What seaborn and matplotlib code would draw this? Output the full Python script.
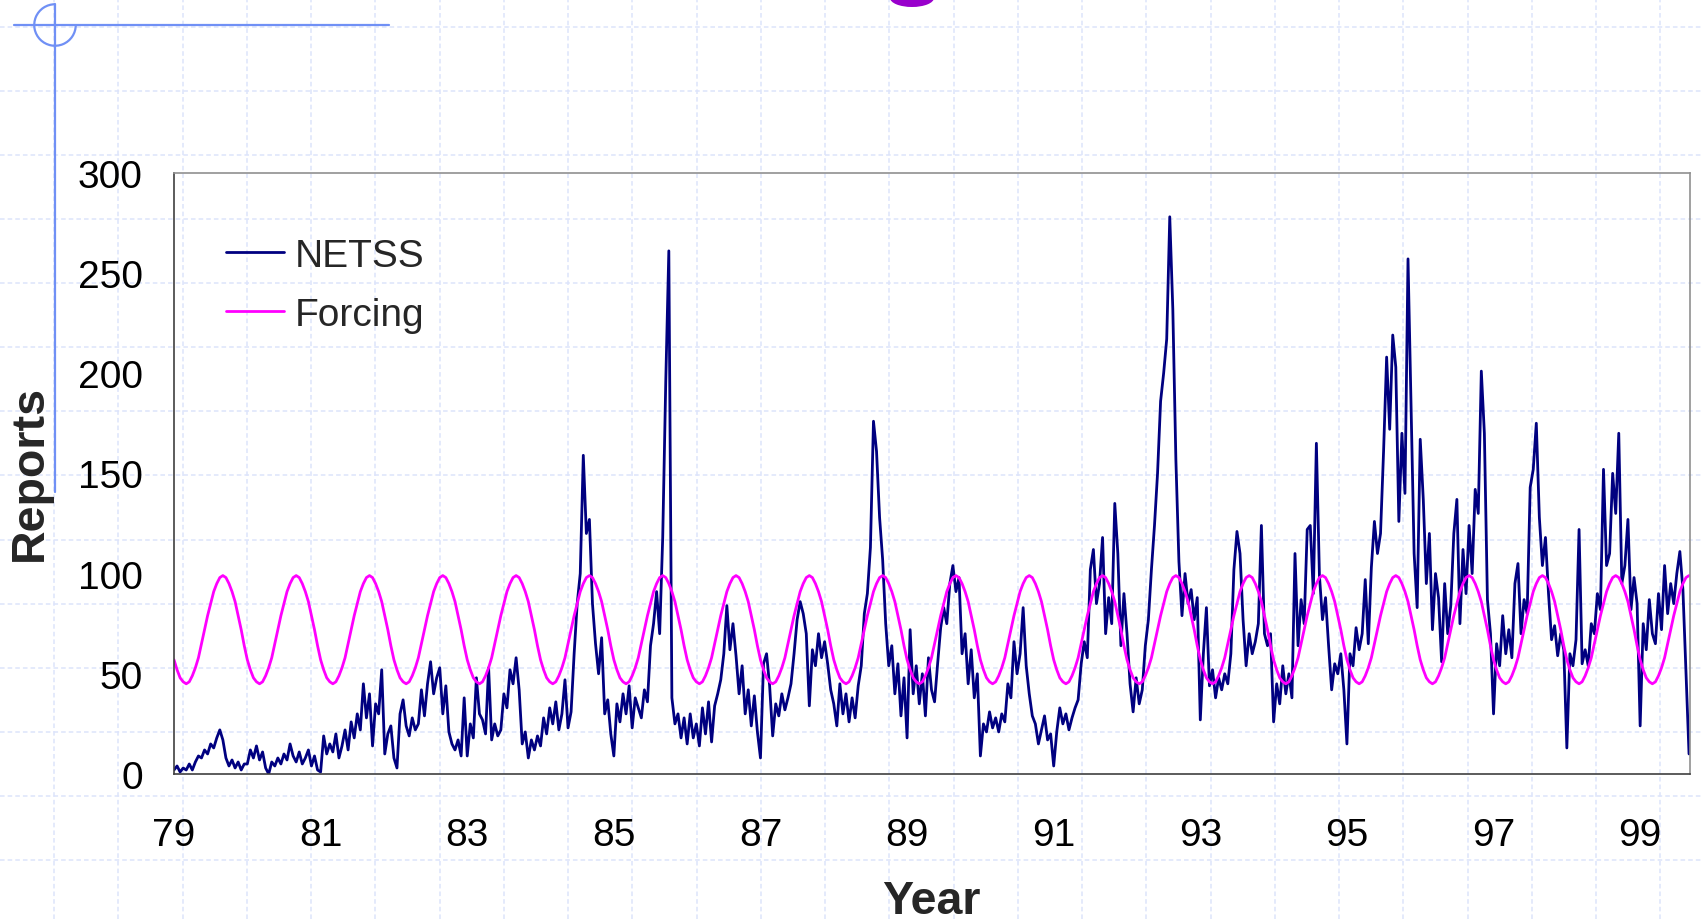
import matplotlib
matplotlib.use("Agg")
import matplotlib.pyplot as plt
from matplotlib.lines import Line2D
from matplotlib.patches import Arc, Ellipse
from matplotlib.transforms import IdentityTransform
import pandas as pd
import seaborn as sns

# NETSS reports, sampled twice a month (24 values per year)
netss_1979 = [2, 4, 1, 3, 2, 5, 2, 6, 9, 8, 12, 10, 15, 13, 18, 22, 17, 8, 4, 7, 3, 6, 2, 5]
netss_1980 = [5, 12, 8, 14, 7, 11, 3, 0, 6, 4, 8, 5, 10, 7, 15, 9, 6, 11, 5, 8, 12, 4, 9, 2]
netss_1981 = [1, 19, 10, 15, 11, 20, 8, 14, 22, 12, 26, 18, 30, 22, 45, 28, 40, 14, 35, 30, 52, 10, 20, 24]
netss_1982 = [8, 3, 30, 37, 24, 19, 28, 22, 25, 42, 29, 45, 56, 40, 48, 53, 30, 44, 21, 15, 12, 17, 9, 38]
netss_1983 = [9, 25, 18, 48, 30, 27, 20, 53, 17, 25, 19, 22, 40, 33, 52, 45, 58, 42, 15, 21, 8, 17, 12, 19]
netss_1984 = [14, 28, 20, 33, 25, 36, 22, 30, 47, 23, 31, 60, 85, 100, 159, 120, 127, 85, 65, 50, 68, 30, 37, 20]
netss_1985 = [9, 35, 26, 40, 30, 44, 23, 38, 33, 28, 42, 36, 64, 75, 91, 70, 118, 196, 261, 38, 25, 30, 18, 28]
netss_1986 = [15, 30, 18, 25, 14, 33, 20, 36, 16, 34, 40, 47, 60, 84, 62, 75, 59, 40, 54, 30, 42, 24, 39, 21]
netss_1987 = [8, 55, 60, 44, 19, 35, 29, 40, 32, 38, 45, 60, 77, 86, 80, 70, 34, 62, 54, 70, 58, 66, 55, 42]
netss_1988 = [35, 24, 45, 30, 40, 26, 38, 28, 44, 54, 80, 90, 113, 176, 161, 128, 107, 75, 54, 64, 40, 55, 29, 48]
netss_1989 = [18, 72, 40, 54, 35, 50, 29, 58, 42, 36, 55, 73, 83, 75, 95, 104, 91, 98, 60, 70, 45, 62, 38, 50]
netss_1990 = [9, 25, 21, 31, 23, 28, 21, 30, 26, 45, 38, 66, 50, 60, 83, 54, 40, 29, 25, 15, 22, 29, 17, 20]
netss_1991 = [4, 21, 33, 25, 30, 22, 28, 33, 37, 55, 66, 58, 102, 112, 85, 95, 118, 70, 88, 75, 135, 110, 64, 90]
netss_1992 = [70, 45, 31, 48, 35, 42, 64, 77, 102, 124, 150, 186, 200, 217, 278, 232, 157, 106, 79, 100, 85, 92, 77, 88]
netss_1993 = [27, 60, 83, 44, 52, 38, 48, 42, 50, 45, 60, 102, 121, 110, 77, 54, 70, 60, 66, 75, 124, 70, 64, 70]
netss_1994 = [26, 45, 35, 54, 40, 50, 38, 110, 64, 87, 75, 122, 124, 90, 165, 99, 77, 88, 64, 42, 55, 50, 60, 42]
netss_1995 = [15, 60, 54, 73, 62, 70, 97, 65, 103, 126, 110, 120, 161, 208, 172, 219, 203, 126, 170, 140, 257, 183, 110, 83]
netss_1996 = [167, 137, 95, 120, 72, 100, 88, 56, 95, 70, 84, 120, 137, 75, 112, 90, 124, 100, 142, 130, 201, 170, 87, 70]
netss_1997 = [30, 65, 54, 79, 60, 72, 58, 95, 105, 70, 87, 80, 143, 152, 175, 128, 104, 118, 90, 67, 74, 59, 70, 62]
netss_1998 = [13, 60, 54, 67, 122, 55, 62, 54, 75, 70, 90, 82, 152, 104, 110, 150, 130, 170, 95, 104, 127, 82, 98, 85]
netss_1999 = [24, 75, 62, 87, 70, 65, 90, 72, 104, 80, 95, 85, 100, 111, 92, 51, 10]

netss_years = [79, 80, 81, 82, 83, 84, 85, 86, 87, 88, 89, 90, 91, 92, 93, 94, 95, 96, 97, 98, 99]
netss_values = [netss_1979, netss_1980, netss_1981, netss_1982, netss_1983, netss_1984,
                netss_1985, netss_1986, netss_1987, netss_1988, netss_1989, netss_1990,
                netss_1991, netss_1992, netss_1993, netss_1994, netss_1995, netss_1996,
                netss_1997, netss_1998, netss_1999]

# Seasonal forcing over one year, same half-month sampling
forcing_cycle = [57, 52, 48, 46, 45, 46, 49, 53, 58, 65, 72, 79,
                 85, 91, 95, 98, 99, 98, 95, 91, 86, 79, 72, 64]

x_ticks = [79, 81, 83, 85, 87, 89, 91, 93, 95, 97, 99]
x_tick_labels = ["79", "81", "83", "85", "87", "89", "91", "93", "95", "97", "99"]
y_ticks = [0, 50, 100, 150, 200, 250, 300]
series_order = ["NETSS", "Forcing"]
series_colors = {"NETSS": "#000080", "Forcing": "#ff00ff"}

rows = []
for yr, vals in zip(netss_years, netss_values):
    for k, v in enumerate(vals):
        t = yr + k / len(forcing_cycle)
        rows.append({"Year": t, "Reports": v, "Series": "NETSS"})
        rows.append({"Year": t, "Reports": forcing_cycle[k], "Series": "Forcing"})
df = pd.DataFrame(rows)

sns.set_style("white")
plt.rcParams["font.family"] = ["Liberation Sans", "DejaVu Sans"]

W, H = 1702, 920
fig = plt.figure(figsize=(W / 100, H / 100), dpi=100)
fig.patch.set_facecolor("white")


def fx(px):
    return px / W


def fy(py):
    return 1 - py / H


# dashed background grid of the slide
grid_kw = dict(color="#dde4fb", lw=1.1, linestyle=(0, (3, 2)), zorder=-5,
               transform=fig.transFigure)
gx = 54 - 64.25
while gx < W:
    if gx > 0:
        fig.add_artist(Line2D([fx(gx), fx(gx)], [0, 1], **grid_kw))
    gx += 64.25
gy = 27.7
while gy < H:
    fig.add_artist(Line2D([0, 1], [fy(gy), fy(gy)], **grid_kw))
    gy += 64.1

# slide ornament: cross lines and open circle
deco = "#7090f5"
fig.add_artist(Line2D([fx(14), fx(389)], [fy(26), fy(26)], color=deco, lw=1.6,
                      transform=fig.transFigure))
fig.add_artist(Line2D([fx(55), fx(55)], [fy(5), fy(493)], color=deco, lw=1.6,
                      transform=fig.transFigure))
fig.add_artist(Arc((55, H - 26), 41.5, 41.5, theta1=90, theta2=360, color=deco, lw=1.6,
                   transform=IdentityTransform()))
fig.add_artist(Ellipse((912, H + 1), 44, 18, color="#9900cc", lw=0,
                       transform=IdentityTransform()))

ax = fig.add_axes([fx(174), fy(775), fx(1690) - fx(174), fy(173.7) - fy(775)])
ax.patch.set_alpha(0)

sns.lineplot(data=df, x="Year", y="Reports", hue="Series", hue_order=series_order,
             palette=series_colors, estimator=None, lw=2.0, ax=ax)

ax.set_xlim(79, 99.68)
ax.set_ylim(0, 300)
ax.set_xticks(x_ticks)
ax.set_xticklabels(x_tick_labels)
ax.set_yticks(y_ticks)
ax.set_xlabel("")
ax.set_ylabel("")
ax.grid(False)
ax.tick_params(axis="both", direction="out", length=8.5, width=1.0, color="#404040",
               labelsize=28, labelcolor="black")
ax.tick_params(axis="x", pad=22.5)
ax.tick_params(axis="y", pad=14)
for side in ["left", "bottom"]:
    ax.spines[side].set_color("#404040")
    ax.spines[side].set_linewidth(1.2)
for side in ["top", "right"]:
    ax.spines[side].set_color("#909090")
    ax.spines[side].set_linewidth(1.2)

handles, labels = ax.get_legend_handles_labels()
ax.legend(handles, labels, loc="upper left", bbox_to_anchor=(fx(226), fy(239)),
          bbox_transform=fig.transFigure, frameon=False, fontsize=28,
          handlelength=1.5, handletextpad=0.28, labelspacing=0.58,
          borderpad=0, borderaxespad=0)

fig.text(fx(931), fy(914), "Year", ha="center", va="baseline",
         fontsize=33.5, fontweight="bold")
fig.text(fx(30), fy(473), "Reports", rotation=90, ha="center", va="center",
         fontsize=33.5, fontweight="bold")

fig.savefig("out.png", dpi=100)
